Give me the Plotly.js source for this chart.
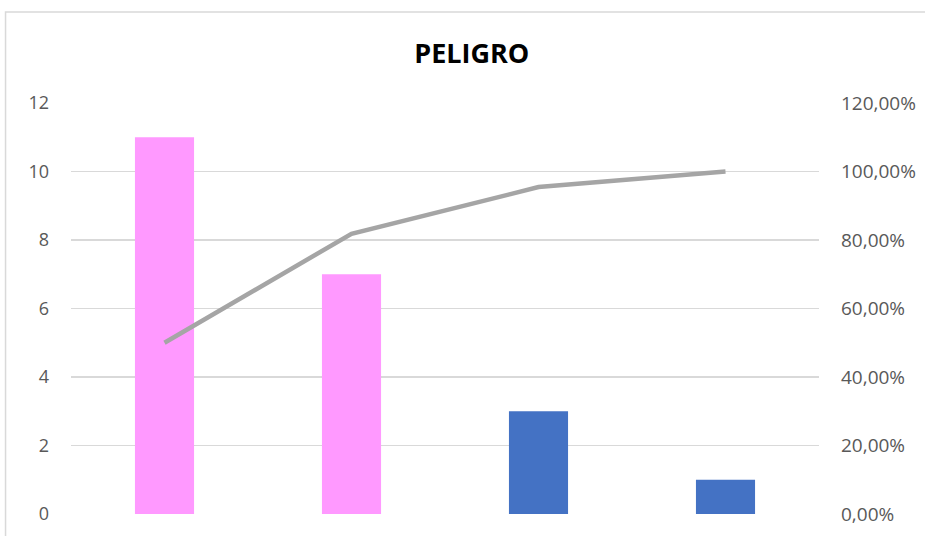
<!DOCTYPE html>
<html>
<head>
<meta charset="utf-8">
<script src="https://cdn.plot.ly/plotly-3.0.1.min.js"></script>
<style>
  html, body { margin: 0; padding: 0; background: #fff; }
  #chart { width: 925px; height: 536px; }
</style>
</head>
<body>
<div id="chart"></div>
<script>
// Pareto of hazards: counts per category plus cumulative share
const categories = ['C1', 'C2', 'C3', 'C4'];
const counts = [11, 7, 3, 1];
const barColors = ['#FF99FF', '#FF99FF', '#4472C4', '#4472C4'];
const cumulative = [0.5, 0.8182, 0.9545, 1.0];
const leftTicks = [0, 2, 4, 6, 8, 10, 12];
const rightTicks = [0, 0.2, 0.4, 0.6, 0.8, 1.0, 1.2];

const tickFont = { family: 'Open Sans, sans-serif', size: 18, color: '#595959' };

const traces = [
  {
    type: 'bar',
    x: categories,
    y: counts,
    marker: { color: barColors, line: { width: 0 } },
    hoverinfo: 'skip'
  },
  {
    type: 'scatter',
    mode: 'lines',
    x: categories,
    y: cumulative,
    yaxis: 'y2',
    line: { color: '#A5A5A5', width: 4.5 },
    hoverinfo: 'skip'
  }
];

const layout = {
  width: 925,
  height: 536,
  margin: { l: 71, r: 106, t: 103, b: 22 },
  paper_bgcolor: '#ffffff',
  plot_bgcolor: '#ffffff',
  showlegend: false,
  separators: ',.',
  bargap: 0.684,
  title: {
    text: '<b>PELIGRO</b>',
    font: { family: 'Open Sans, sans-serif', size: 27, color: '#000000' },
    x: 0.51, xanchor: 'center',
    y: 0.9, yanchor: 'middle', yref: 'container'
  },
  xaxis: {
    type: 'category',
    showticklabels: false,
    showgrid: false,
    zeroline: false,
    showline: false,
    ticks: ''
  },
  yaxis: {
    range: [0, 12],
    tickvals: leftTicks,
    tickfont: tickFont,
    showgrid: true,
    gridcolor: '#D9D9D9',
    gridwidth: 1.5,
    zeroline: false,
    showline: false,
    ticks: '',
    ticklabelstandoff: 21
  },
  yaxis2: {
    overlaying: 'y',
    side: 'right',
    range: [0, 1.2],
    tickvals: rightTicks,
    tickformat: '.2%',
    tickfont: { family: 'Open Sans, sans-serif', size: 19, color: '#595959' },
    showgrid: false,
    zeroline: false,
    showline: false,
    ticks: '',
    ticklabelstandoff: 21
  },
  shapes: [
    {
      type: 'rect', xref: 'paper', yref: 'paper',
      x0: -0.0875, x1: 1.3, y0: -0.2, y1: 1.2214,
      line: { color: '#D9D9D9', width: 1.5 },
      fillcolor: 'rgba(0,0,0,0)',
      layer: 'below'
    }
  ]
};

Plotly.newPlot('chart', traces, layout, { staticPlot: true, displayModeBar: false });
</script>
</body>
</html>
